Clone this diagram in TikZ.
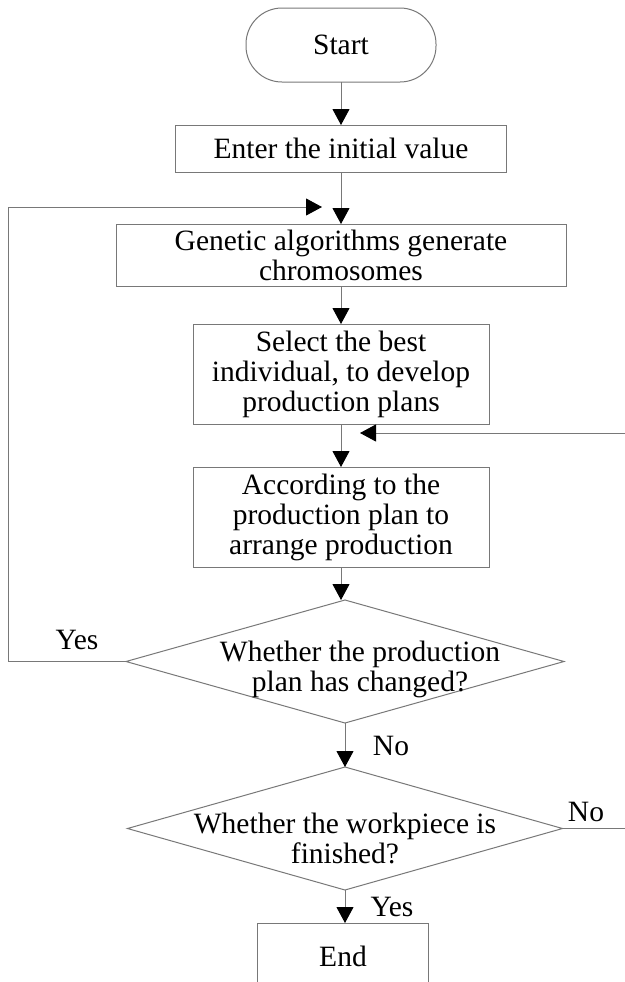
\documentclass[tikz,border=0pt]{standalone}
\usepackage{fontspec}
\setmainfont{Liberation Serif}
\usetikzlibrary{shapes.geometric,arrows.meta}
\definecolor{linegray}{RGB}{120,120,120}
\begin{document}
\begin{tikzpicture}[x=0.5pt,y=-0.5pt,
  every node/.style={font=\fontsize{14.75}{15}\selectfont, text=black},
  procbox/.style={draw=linegray, line width=0.5pt, rectangle, align=center, inner sep=0pt, outer sep=0pt},
  termbox/.style={draw=linegray, line width=0.5pt, rectangle, rounded corners=18pt, inner sep=0pt, outer sep=0pt},
  decision/.style={draw=linegray, line width=0.5pt, diamond, inner sep=0pt, outer sep=0pt},
  txt/.style={align=center, inner sep=0pt},
  flow/.style={draw=linegray, line width=0.5pt, -{Triangle[length=8pt,width=8.5pt,fill=black,color=black]}},
  plain/.style={draw=linegray, line width=0.5pt}
]
\useasboundingbox (0,0) rectangle (625,982);
\clip (0,0) rectangle (625,982);
\fill[white] (0,0) rectangle (625,982);

\node[termbox, minimum width=95pt, minimum height=37pt] (start) at (341,45) {Start};
\node[procbox, minimum width=165.5pt, minimum height=23.5pt] (enter) at (341,148.5) {Enter the initial value};
\node[procbox, minimum width=225pt, minimum height=31pt] (gen) at (341,255) {Genetic algorithms generate\\chromosomes};
\node[procbox, minimum width=148pt, minimum height=50pt] (sel) at (341,374) {Select the best\\individual, to develop\\production plans};
\node[procbox, minimum width=148pt, minimum height=50pt] (acc) at (341,517) {According to the\\production plan to\\arrange production};
\node[decision, minimum width=219pt, minimum height=61.5pt] (d1) at (345,661.5) {};
\node[txt] (d1t) at (360,669) {Whether the production\\plan has changed?};
\node[decision, minimum width=217.5pt, minimum height=61.5pt] (d2) at (345,828.5) {};
\node[txt] (d2t) at (345,838) {Whether the workpiece is\\finished?};
\node[procbox, anchor=north, minimum width=85.5pt, text height=10pt, text depth=40pt, inner ysep=11.5pt] (end) at (343,923) {End};

\node[txt] (yes1) at (77,640) {Yes};
\node[txt] (no1) at (391,746) {No};
\node[txt] (no2) at (586,812) {No};
\node[txt] (yes2) at (392,907) {Yes};

\coordinate (l1) at (8,661.5);
\coordinate (l2) at (8,207);
\coordinate (l3) at (322,207);
\coordinate (r1) at (640,828.5);
\coordinate (r2) at (640,433);
\coordinate (r3) at (360,433);

\draw[flow] (start.south) -- (enter.north);
\draw[flow] (enter.south) -- (gen.north);
\draw[flow] (gen.south) -- (sel.north);
\draw[flow] (sel.south) -- (acc.north);
\draw[flow] (acc.south) -- (acc.south |- d1.north);
\draw[flow] (d1.south) -- (d2.north);
\draw[flow] (d2.south) -- (d2.south |- end.north);
\draw[flow] (d1.west) -- (l1) -- (l2) -- (l3);
\draw[flow] (d2.east) -- (r1) -- (r2) -- (r3);
\end{tikzpicture}
\end{document}
